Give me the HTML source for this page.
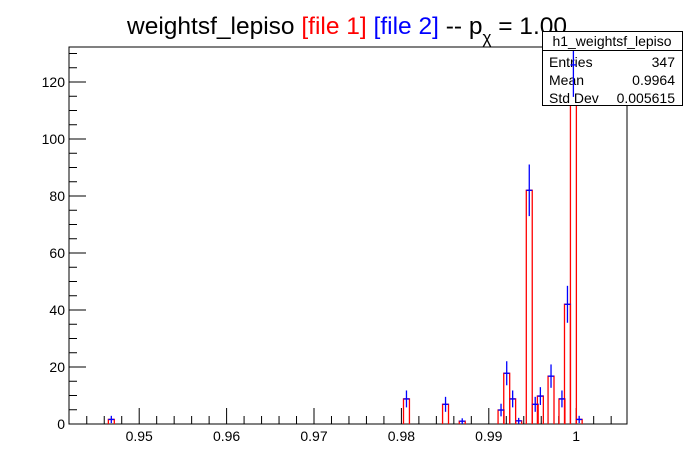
<!DOCTYPE html>
<html><head><meta charset="utf-8"><style>
body{margin:0;background:#fff;}
svg{display:block;font-family:"Liberation Sans",Arial,sans-serif;}
</style></head><body>
<svg id="c" width="696" height="472" viewBox="0 0 696 472">
<text x="347" y="34" text-anchor="middle" font-size="24.5">weightsf_lepiso <tspan fill="#ff0000">[file 1]</tspan> <tspan fill="#0000ff">[file 2]</tspan> -- p<tspan font-size="17" dy="9">χ</tspan><tspan dy="-9"> = 1.00</tspan></text>
<g id="axes"></g>
<g id="red"></g>
<g id="stats">
<rect x="542.5" y="31.5" width="140" height="74" fill="#fff" stroke="#000" stroke-width="1"/>
<line x1="542.5" y1="50.5" x2="682.5" y2="50.5" stroke="#000"/>
<text x="612" y="46" text-anchor="middle" font-size="14">h1_weightsf_lepiso</text>
<text x="549" y="67" font-size="14">Entries</text>
<text x="675" y="67" font-size="14" text-anchor="end">347</text>
<text x="549" y="85" font-size="14">Mean</text>
<text x="675" y="85" font-size="14" text-anchor="end">0.9964</text>
<text x="549" y="103" font-size="14">Std Dev</text>
<text x="675" y="103" font-size="14" text-anchor="end">0.005615</text>
</g>
<g id="blue"></g>
</svg>
<script>
const binCenters = [0.94681,0.98058,0.98505,0.98696,0.99140,0.99205,0.99273,0.99342,0.99463,0.99531,0.99590,0.99712,0.99837,0.99900,0.99968,1.00034];
const file1Values = [1.6,8.8,6.9,1.0,4.9,17.8,8.8,1.1,82,6.9,9.8,16.8,8.8,42,126,1.6];
const file2Values = [1.6,8.8,6.9,1.0,4.9,17.8,8.8,1.1,82,6.9,9.8,16.8,8.8,42,126,1.6];
const xTickLabels = ["0.95","0.96","0.97","0.98","0.99","1"];
const yTickLabels = ["0","20","40","60","80","100","120"];
const binWidth = 0.00068;
const X0=69, X1=627, Y0=424, Y1=47;
const xMin=0.95-(139.2-69)/8740, xMax=0.95+(627-139.2)/8740;
const yMin=0, yMax=(424-47)/2.85;
const sx=v=>X0+(v-xMin)/(xMax-xMin)*(X1-X0);
const sy=v=>Y0-(v-yMin)/(yMax-yMin)*(Y0-Y1);
const NS="http://www.w3.org/2000/svg";
function mk(p,t,a){const e=document.createElementNS(NS,t);for(const k in a)e.setAttribute(k,a[k]);p.appendChild(e);return e;}
const axes=document.getElementById('axes');
const frame=mk(axes,'rect',{x:X0,y:Y1,width:X1-X0,height:Y0-Y1,fill:'none',stroke:'#000','stroke-width':1});


for(let v=0.944;v<=xMax+1e-9;v+=0.002){
  const x=sx(v);const maj=Math.abs(Math.round(v*100)-v*100)<1e-6;
  const t=mk(axes,'line',{x1:x,x2:x,y1:Y0,y2:Y0-(maj?16:8),stroke:'#000'});
  
  
}
xTickLabels.forEach(l=>{
  const t=mk(axes,'text',{x:sx(parseFloat(l)),y:Y0+17,'text-anchor':'middle','font-size':14});
  t.textContent=l;
  
  
});
for(let v=0;v<=yMax;v+=5){
  const y=sy(v);const maj=v%20===0;
  const t=mk(axes,'line',{x1:X0,x2:X0+(maj?17:8),y1:y,y2:y,stroke:'#000'});
  
  
}
yTickLabels.forEach(l=>{
  const t=mk(axes,'text',{x:X0-4,y:sy(parseFloat(l))+5,'text-anchor':'end','font-size':14});
  t.textContent=l;
  
  
});
const red=document.getElementById('red');
binCenters.forEach((c,i)=>{
  const v=file1Values[i];const xl=sx(c-binWidth/2),xr=sx(c+binWidth/2),yt=Math.max(sy(v),Y1);
  const p=mk(red,'path',{d:`M${xl},${Y0}V${yt}H${xr}V${Y0}`,fill:'none',stroke:'#ff0000','stroke-width':1.3});
  
  
});
const blue=document.getElementById('blue');
binCenters.forEach((c,i)=>{
  const v=file2Values[i];const e=Math.sqrt(v);const x=sx(c);
  const g=mk(blue,'g',{stroke:'#0000ff','stroke-width':1.3});
  
  
  const top=Math.max(sy(v+e),51);
  mk(g,'line',{x1:x,x2:x,y1:top,y2:Math.min(sy(v-e),Y0)});
  const y=sy(v);
  if(y>51) mk(g,'line',{x1:sx(c-binWidth/2),x2:sx(c+binWidth/2),y1:y,y2:y});
});
</script>
</body></html>
